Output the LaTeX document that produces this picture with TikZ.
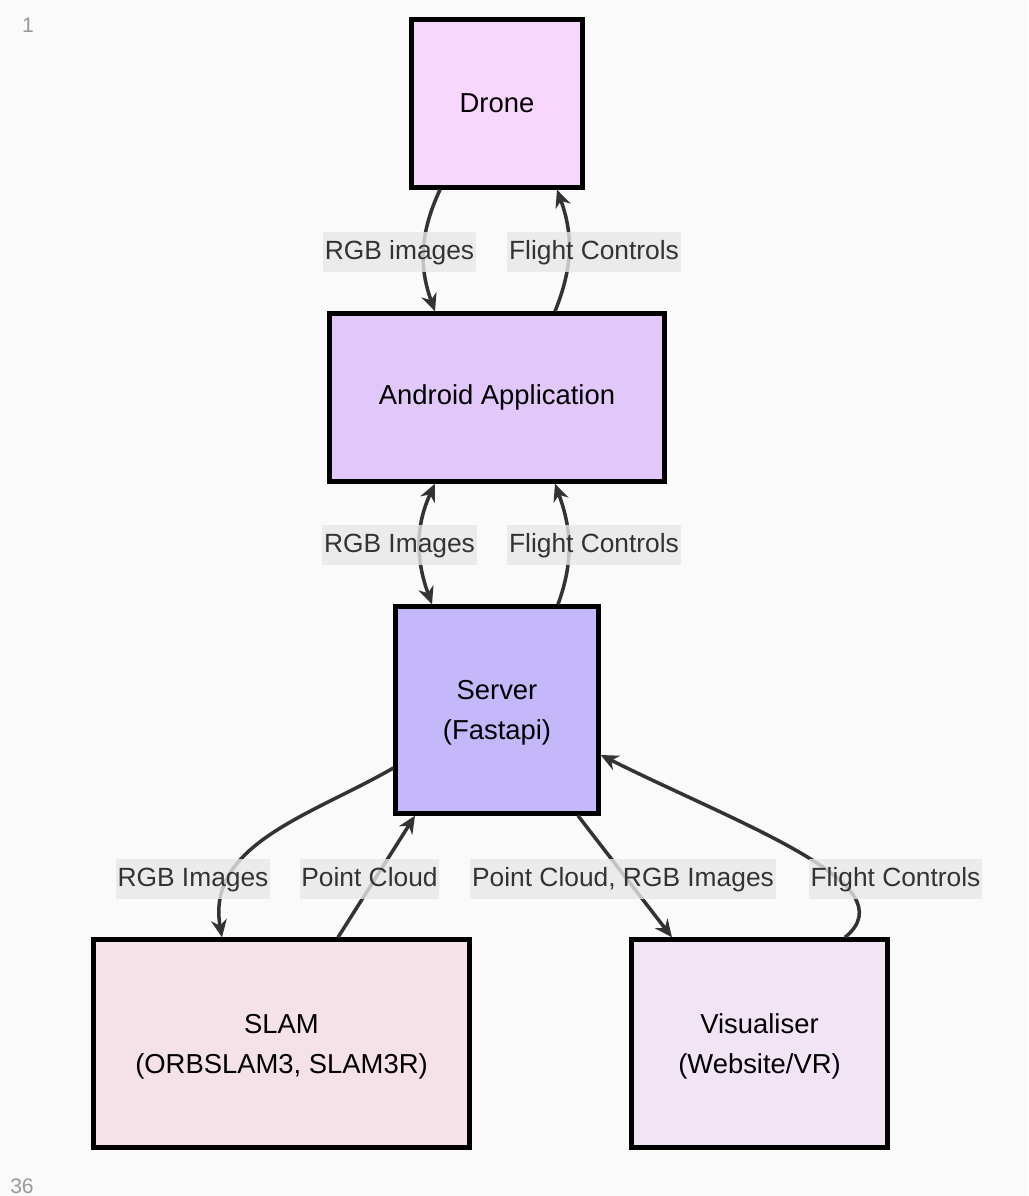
\documentclass[tikz,border=0pt]{standalone}
\usepackage{xcolor}
\usepackage{fontspec}
\setmainfont{Liberation Sans}
\usetikzlibrary{arrows.meta,positioning,calc}
\definecolor{bgcolor}{RGB}{250,250,250}
\definecolor{edgegray}{RGB}{51,51,51}
\definecolor{labelgray}{RGB}{232,232,232}
\definecolor{dronecolor}{RGB}{249,214,254}
\definecolor{androidcolor}{RGB}{226,200,250}
\definecolor{servercolor}{RGB}{197,184,250}
\definecolor{slamcolor}{RGB}{245,225,232}
\definecolor{viscolor}{RGB}{240,228,245}

\begin{document}
\begin{tikzpicture}[
    x=0.02cm, y=-0.02cm,
    block/.style args={#1}{
      rectangle,
      draw=black,
      fill=#1,
      line width=2.5pt,
      align=center,
      font=\fontsize{15.6}{22.7}\selectfont,
      inner sep=0pt
    },
    lbl/.style={
      fill=labelgray, fill opacity=0.8, text opacity=1,
      text=edgegray, inner xsep=1pt, inner ysep=0pt,
      text height=0.95em, text depth=0.05em,
      minimum height=0.8cm,
      font=\fontsize{15}{17}\selectfont
    },
    lineno/.style={text=gray!80, font=\fontsize{12}{14}\selectfont, inner sep=0pt},
    arrow/.style={-{Stealth[length=10pt,width=9pt]}, line width=2pt, edgegray},
    biarrow/.style={{Stealth[length=10pt,width=9pt]}-{Stealth[length=10pt,width=9pt]}, line width=2pt, edgegray}
  ]
    \fill[bgcolor] (0,0) rectangle (1028,1196);
    \useasboundingbox (0,0) rectangle (1028,1196);

    \node[lineno] (first) at (28,25) {1};
    \node[lineno] (last) at (22,1186) {36};

    \node[block=dronecolor, minimum width=3.42cm, minimum height=3.36cm] (drone) at (497,103.5) {Drone};
    \node[block=androidcolor, minimum width=6.70cm, minimum height=3.36cm] (android) at (497,397.5) {Android Application};
    \node[block=servercolor, minimum width=4.06cm, minimum height=4.14cm, text depth=-0.15em] (server) at (497,710) {Server\\(Fastapi)};
    \node[block=slamcolor, minimum width=7.52cm, minimum height=4.16cm, text depth=-0.15em] (slam) at (281.5,1043.5) {SLAM\\(ORBSLAM3, SLAM3R)};
    \node[block=viscolor, minimum width=5.12cm, minimum height=4.16cm, text depth=-0.15em] (vis) at (759.5,1043.5) {Visualiser\\(Website/VR)};

    \draw[arrow] ($(drone.south)+(-57,0)$) to[out=-115, in=110] ($(android.north)+(-62,0)$);
    \draw[arrow] ($(android.north)+(58,0)$) to[out=68, in=-70] ($(drone.south)+(60,0)$);
    \draw[biarrow] ($(android.south)+(-62,0)$) to[out=-115, in=110] ($(server.north)+(-65,0)$);
    \draw[arrow] ($(server.north)+(61,0)$) to[out=70, in=-70] ($(android.south)+(58,0)$);
    \draw[arrow] ($(server.west)+(0,58)$) to[out=-150, in=100] ($(slam.north)+(-59.5,0)$);
    \draw[arrow] ($(slam.north)+(56.5,0)$) -- ($(server.south)+(-82,0)$);
    \draw[arrow] ($(server.south)+(81,0)$) -- ($(vis.north)+(-87.5,0)$);
    \draw[arrow] ($(vis.north)+(85.5,0)$) .. controls +(65,-53) and +(140,70) .. ($(server.east)+(0,45)$);

    \node[lbl] (rgbtop) at (399.5,252) {RGB images};
    \node[lbl] (flighttop) at (594,252) {Flight Controls};
    \node[lbl] (rgbmid) at (399.5,545) {RGB Images};
    \node[lbl] (flightmid) at (594,545) {Flight Controls};
    \node[lbl] (rgbslam) at (193,879) {RGB Images};
    \node[lbl] (cloudslam) at (369.5,879) {Point Cloud};
    \node[lbl] (cloudvis) at (623,879) {Point Cloud, RGB Images};
    \node[lbl] (flightvis) at (895.5,879) {Flight Controls};
  \end{tikzpicture}
\end{document}
